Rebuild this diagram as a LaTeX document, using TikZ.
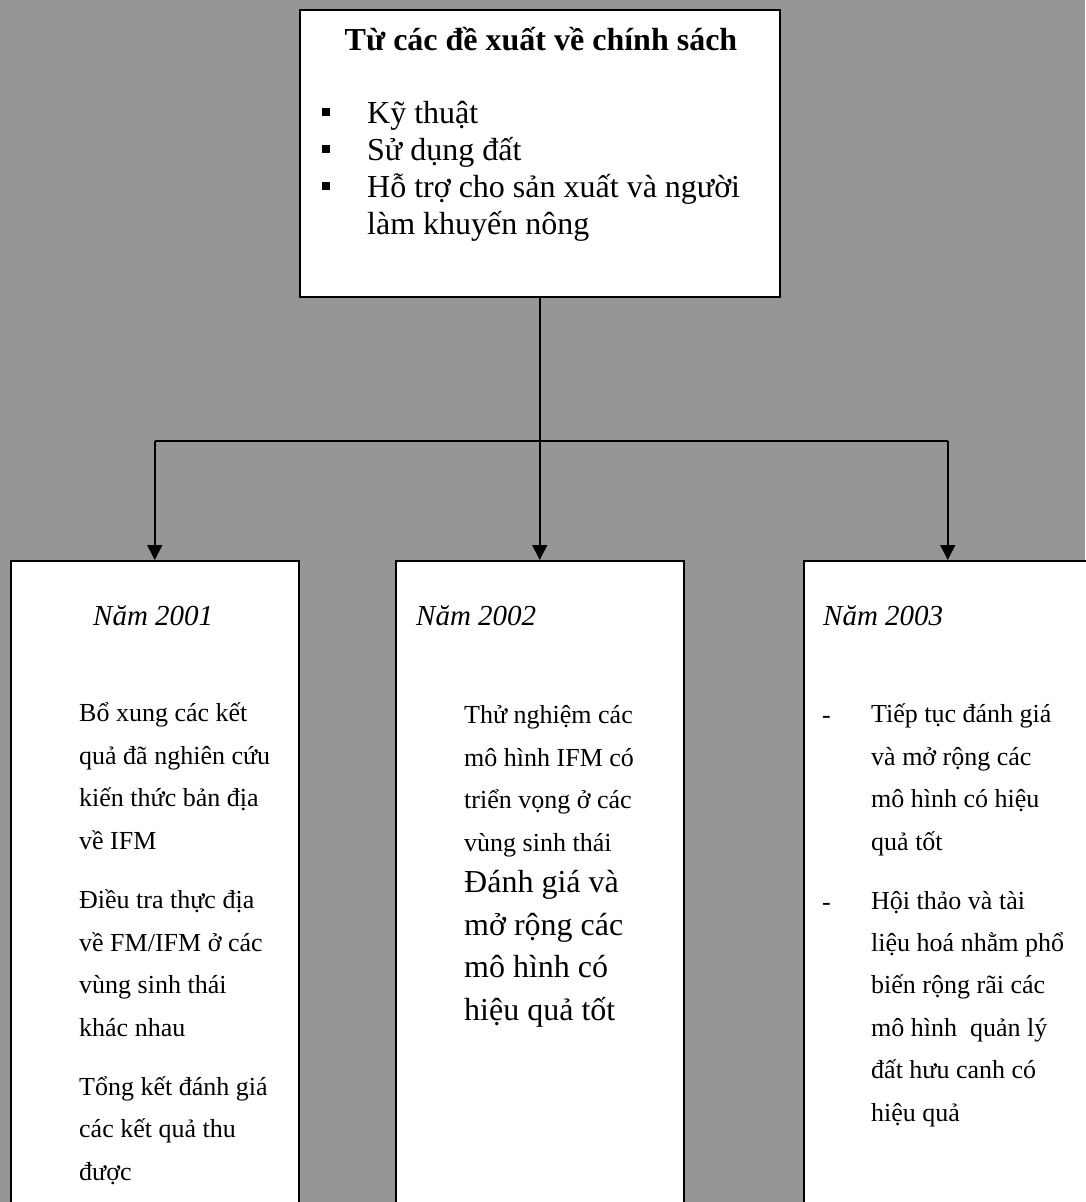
\documentclass[tikz,border=0pt]{standalone}
\usepackage{fontspec}
\setmainfont{Liberation Serif}
\usetikzlibrary{arrows.meta,positioning}
\definecolor{panelgray}{RGB}{150,150,150}

\begin{document}
\begin{tikzpicture}[x=1pt, y=-1pt,
  box/.style = {draw, line width=1.5pt, fill=white, anchor=north west, inner sep=0pt, minimum width=288pt, minimum height=700pt},
  body/.style = {anchor=base west, align=left, inner sep=0pt, font=\fontsize{26}{42.4}\selectfont},
  big/.style = {body, font=\fontsize{32}{42.4}\selectfont},
  item/.style = {anchor=base west, align=left, inner sep=0pt, font=\fontsize{32}{36.8}\selectfont},
  year/.style = {anchor=base west, inner sep=0pt, font=\fontsize{29}{34}\selectfont\itshape},
  sq/.style = {fill=black, minimum size=8.5pt, inner sep=0pt},
  link/.style = {line width=1.5pt},
  arr/.style = {link, -{Triangle[width=15pt,length=15pt]}}]
\fill[panelgray] (0,0) rectangle (1085,1202);
\useasboundingbox (0,0) rectangle (1085,1202);

\node[box, minimum width=480pt, minimum height=287pt] (policy) at (299,9) {};
\node[box] (y2001) at (10,560) {};
\node[box] (y2002) at (395,560) {};
\node[box] (y2003) at (803,560) {};

% multi-line nodes below sit on the baseline of their last line
\coordinate (fork) at (policy.south |- 0,441);
\draw[link] (policy.south) -- (fork);
\draw[link] (fork -| y2001.north) -- (fork -| y2003.north);
\draw[arr] (fork -| y2001.north) -- (y2001.north);
\draw[arr] (fork) -- (y2002.north);
\draw[arr] (fork -| y2003.north) -- (y2003.north);

\node[anchor=base, inner sep=0pt, font=\fontsize{32}{38}\selectfont\bfseries] (title) at (541,50) {Từ các đề xuất về chính sách};
\node[sq] (b1) at (326,112) {};
\node[sq] (b2) at (326,149) {};
\node[sq] (b3) at (326,186) {};
\node[item] (kt) at (367,123) {Kỹ thuật};
\node[item] (sd) at (367,160) {Sử dụng đất};
\node[item] (ht) at (367,234) {Hỗ trợ cho sản xuất và người\\làm khuyến nông};

\node[year] (n2001) at (93,625) {Năm 2001};
\node[body] (p11) at (79,849) {Bổ xung các kết\\quả đã nghiên cứu\\kiến thức bản địa\\về IFM};
\node[body] (p12) at (79,1036) {Điều tra thực địa\\về FM/IFM ở các\\vùng sinh thái\\khác nhau};
\node[body] (p13) at (79,1180) {Tổng kết đánh giá\\các kết quả thu\\được};

\node[year] (n2002) at (416,625) {Năm 2002};
\node[body] (p21) at (464,851) {Thử nghiệm các\\mô hình IFM có\\triển vọng ở các\\vùng sinh thái};
\node[big] (p22) at (464,1020) {Đánh giá và\\mở rộng các\\mô hình có\\hiệu quả tốt};

\node[year] (n2003) at (823,625) {Năm 2003};
\node[body] (d1) at (822,723) {-};
\node[body] (p31) at (871,850) {Tiếp tục đánh giá\\và mở rộng các\\mô hình có hiệu\\quả tốt};
\node[body] (d2) at (822,910) {-};
\node[body] (p32) at (871,1121) {Hội thảo và tài\\liệu hoá nhằm phổ\\biến rộng rãi các\\mô hình\ \ quản lý\\đất hưu canh có\\hiệu quả};
\end{tikzpicture}
\end{document}
